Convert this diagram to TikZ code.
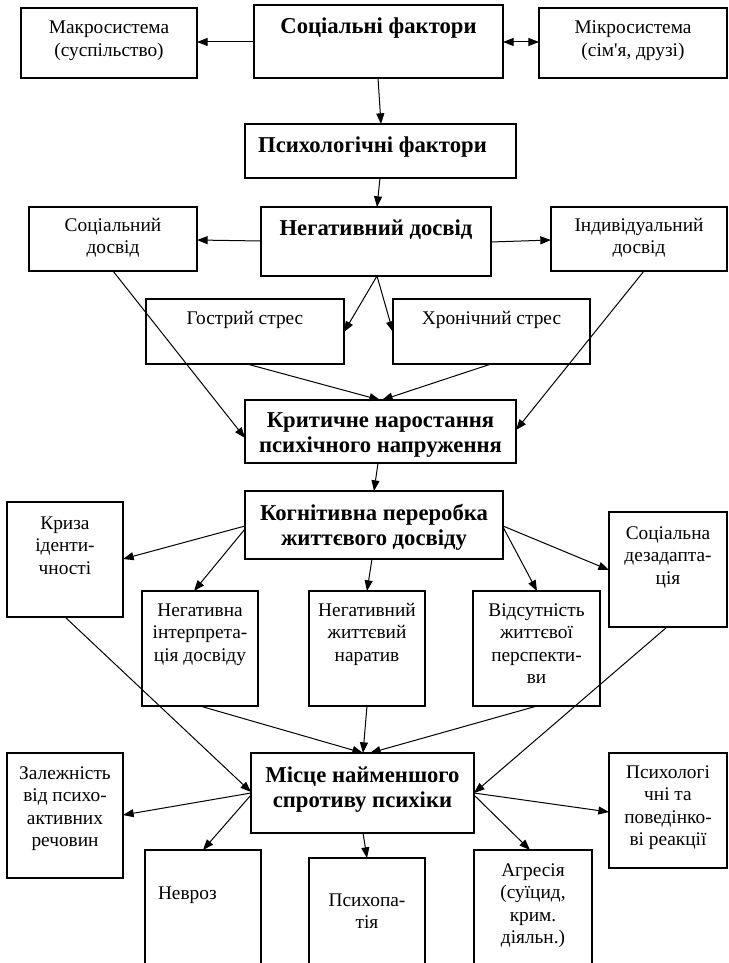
\documentclass[tikz,border=0pt]{standalone}
\usepackage{fontspec}
\setmainfont{Liberation Serif}[Ligatures=TeXOff]
\usetikzlibrary{arrows.meta,calc}
\newlength\pxu \setlength\pxu{0.75pt}
\newcommand\rg{\fontsize{14.5}{16.9}\selectfont}
\newcommand\bd{\fontsize{17}{18.75}\selectfont\bfseries}
% name, x1, y1, width, height, first-baseline offset, font, text
\newcommand\bxn[8]{\node[bx] (#1) at (#2,#3) {\parbox[c][#5\pxu][t]{#4\pxu}{#7\centering\rule{0pt}{#6\pxu}#8}};}
\begin{document}
\begin{tikzpicture}[x=0.75pt,y=-0.75pt,
  bx/.style={draw,line width=1.1pt,inner sep=0pt,outer sep=0pt,anchor=north west},
  arr/.style={-{Triangle[length=8pt,width=6pt]},line width=0.75pt},
  darr/.style={{Triangle[length=8pt,width=6pt]}-{Triangle[length=8pt,width=6pt]},line width=0.75pt}]
\useasboundingbox (0,0) rectangle (728,963);
\clip (0,0) rectangle (728,963);
\fill[white] (0,0) rectangle (728,963);
% boxes
\bxn{macro}{21}{8}{176}{70}{26}{\rg}{Макросистема\\(суспільство)}
\bxn{soc}{254}{5}{249}{73}{29}{\bd}{Соціальні фактори}
\bxn{micro}{539}{8}{188}{70}{26}{\rg}{Мікросистема\\(сім'я, друзі)}
\bxn{psych}{245}{124}{271}{54}{28}{\bd}{Психологічні фактори\kern16\pxu}
\bxn{neg}{261}{207}{230}{69}{28}{\bd}{Негативний досвід}
\bxn{socexp}{29}{207}{168}{64}{24}{\rg}{Соціальний\\досвід}
\bxn{indiv}{551}{207}{176}{64}{24}{\rg}{Індивідуальний\\досвід}
\bxn{gostr}{146}{299}{198}{65}{25}{\rg}{Гострий стрес}
\bxn{hron}{393}{299}{197}{65}{25}{\rg}{Хронічний стрес}
\bxn{krit}{245}{400}{271}{63}{27}{\bd}{Критичне наростання\\психічного напруження}
\bxn{kogn}{245}{491}{258}{68}{29}{\bd}{Когнітивна переробка\\життєвого досвіду}
\bxn{kryza}{7}{502}{116}{115}{27}{\rg}{Криза\\іденти-\\чності}
\bxn{socdez}{609}{512}{118}{115}{27}{\rg}{Соціальна\\дезадапта-\\ція}
\bxn{neginterp}{142}{591}{116}{115}{25}{\rg}{Негативна\\інтерпрета-\\ція досвіду}
\bxn{narat}{309}{591}{116}{115}{25}{\rg}{Негативний\\життєвий\\наратив}
\bxn{vidsut}{473}{591}{127}{115}{25}{\rg}{Відсутність\\життєвої\\перспекти-\\ви}
\bxn{mistse}{251}{753}{223}{80}{29}{\bd}{Місце найменшого\\спротиву психіки}
\bxn{zalezh}{7}{753}{116}{125}{26}{\rg}{Залежність\\від психо-\\активних\\речовин}
\bxn{psyreact}{609}{753}{118}{115}{25}{\rg}{Психологі\\чні та\\поведінко-\\ві реакції}
\bxn{nevroz}{145}{850}{116}{140}{49}{\rg}{\hspace*{13\pxu}Невроз\hfill\null}
\bxn{psychopat}{309}{858}{116}{132}{48}{\rg}{Психопа-\\тія}
\bxn{agres}{474}{850}{118}{140}{26}{\rg}{Агресія\\(суїцид,\\крим.\\діяльн.)}
% connectors
\draw[arr] ($(soc.north west)+(0,37)$) -- ($(macro.north east)+(0,34)$);
\draw[darr] ($(soc.north east)+(0,37)$) -- ($(micro.north west)+(0,34)$);
\draw[arr] ($(soc.south west)+(124,0)$) -- ($(psych.north west)+(136,0)$);
\draw[arr] ($(psych.south west)+(135,0)$) -- ($(neg.north west)+(116,0)$);
\draw[arr] ($(neg.north west)+(0,34)$) -- ($(socexp.north east)+(0,33)$);
\draw[arr] ($(neg.north east)+(0,35)$) -- ($(indiv.north west)+(0,33)$);
\draw[arr] ($(neg.south west)+(116,0)$) -- ($(gostr.north east)+(0,33)$);
\draw[arr] ($(neg.south west)+(116,0)$) -- ($(hron.north west)+(0,33)$);
\draw[arr] ($(socexp.south west)+(84,0)$) -- ($(krit.north west)+(0,38)$);
\draw[arr] ($(indiv.south west)+(93,0)$) -- ($(krit.north east)+(0,30)$);
\draw[arr] ($(gostr.south west)+(101,0)$) -- ($(krit.north west)+(135,0)$);
\draw[arr] ($(hron.south west)+(98,0)$) -- ($(krit.north west)+(137,0)$);
\draw[arr] ($(krit.south west)+(133,0)$) -- ($(kogn.north west)+(129,0)$);
\draw[arr] ($(kogn.north west)+(0,35)$) -- ($(kryza.north east)+(0,57)$);
\draw[arr] ($(kogn.north west)+(0,38)$) -- ($(neginterp.north west)+(52,0)$);
\draw[arr] ($(kogn.south west)+(127,0)$) -- ($(narat.north west)+(58,0)$);
\draw[arr] ($(kogn.north east)+(0,36)$) -- ($(vidsut.north west)+(64,0)$);
\draw[arr] ($(kogn.north east)+(0,35)$) -- ($(socdez.north west)+(0,58)$);
\draw[arr] ($(kryza.south west)+(58,0)$) -- ($(mistse.north west)+(0,39)$);
\draw[arr] ($(neginterp.south west)+(58,0)$) -- ($(mistse.north west)+(112,0)$);
\draw[arr] ($(narat.south west)+(58,0)$) -- ($(mistse.north west)+(112,0)$);
\draw[arr] ($(vidsut.south west)+(64,0)$) -- ($(mistse.north west)+(119,0)$);
\draw[arr] ($(socdez.south west)+(58,0)$) -- ($(mistse.north east)+(0,40)$);
\draw[arr] ($(mistse.north west)+(0,40)$) -- ($(zalezh.north east)+(0,62)$);
\draw[arr] ($(mistse.north west)+(0,42)$) -- ($(nevroz.north west)+(58,0)$);
\draw[arr] ($(mistse.south west)+(112,0)$) -- ($(psychopat.north west)+(58,0)$);
\draw[arr] ($(mistse.north east)+(0,42)$) -- ($(agres.north west)+(56,0)$);
\draw[arr] ($(mistse.north east)+(0,40)$) -- ($(psyreact.north west)+(0,59)$);
\end{tikzpicture}
\end{document}
